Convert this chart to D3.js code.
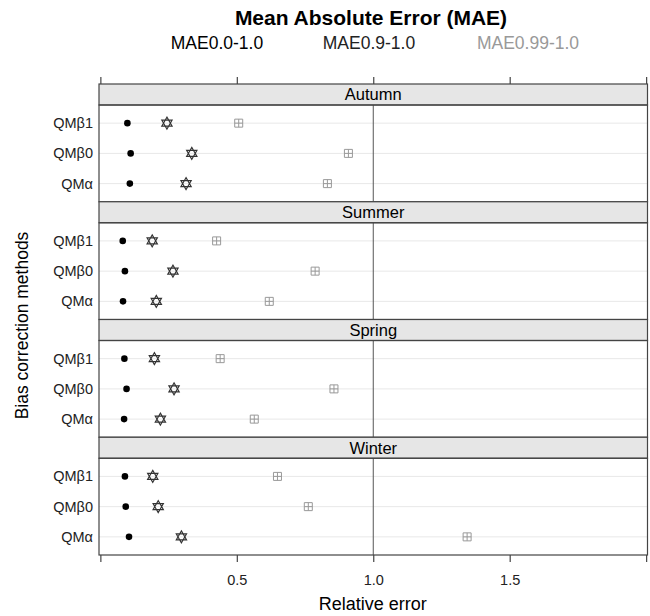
<!DOCTYPE html>
<html>
<head>
<meta charset="utf-8">
<script src="https://cdn.jsdelivr.net/npm/d3@7"></script>
<style>
  body { margin: 0; background: #fff; }
  svg { font-family: 'Liberation Sans', Arial, sans-serif; }
</style>
</head>
<body>
<div id="chart"></div>
<script>
// panels from top to bottom
const seasons = ['Autumn', 'Summer', 'Spring', 'Winter'];
// methods from bottom row to top row
const methods = ['QMα', 'QMβ0', 'QMβ1'];
const seriesNames = ['MAE0.0-1.0', 'MAE0.9-1.0', 'MAE0.99-1.0'];

// values per season, ordered as methods (QMα, QMβ0, QMβ1)
const mae00 = [
  [0.108, 0.111, 0.099],
  [0.083, 0.090, 0.082],
  [0.087, 0.096, 0.088],
  [0.105, 0.093, 0.090]
];
const mae09 = [
  [0.314, 0.335, 0.244],
  [0.205, 0.266, 0.190],
  [0.220, 0.270, 0.198],
  [0.297, 0.212, 0.192]
];
const mae099 = [
  [0.832, 0.909, 0.507],
  [0.619, 0.787, 0.426],
  [0.564, 0.856, 0.439],
  [1.344, 0.762, 0.649]
];
const xTicks = [0, 0.5, 1, 1.5, 2];
const xLabels = [0.5, 1, 1.5];

const width = 650;
const height = 616;
const plotLeft = 99;
const plotRight = 647.5;
const plotTop = 84;
const stripHeight = 21;
const panelHeight = 96.75;
const axisColor = '#444';

const svg = d3.select('#chart')
  .append('svg')
  .attr('width', width)
  .attr('height', height);

const x = d3.scaleLinear()
  .domain([-0.005, 2.005])
  .range([plotLeft, plotRight]);

// title and text-only legend
svg.append('text')
  .attr('x', 371)
  .attr('y', 25)
  .attr('text-anchor', 'middle')
  .style('font-size', '21px')
  .style('font-weight', 'bold')
  .text('Mean Absolute Error (MAE)');

const legendColors = ['#000', '#222', '#999'];
const legendX = [217, 369, 528];
svg.append('g')
  .selectAll('text')
  .data(seriesNames)
  .enter()
  .append('text')
  .attr('x', (_, i) => legendX[i])
  .attr('y', 49)
  .attr('text-anchor', 'middle')
  .style('font-size', '17.5px')
  .style('fill', (_, i) => legendColors[i])
  .text(d => d);

// marker shapes
const starPath = r => {
  let tri = a0 => d3.range(3).map(k => {
    let a = (a0 + k * 120) * Math.PI / 180;
    return [r * Math.cos(a), r * Math.sin(a)];
  });
  let up = tri(-90), down = tri(90);
  return 'M' + up.join('L') + 'Z M' + down.join('L') + 'Z';
};
const boxPlusPath = s => {
  let h = s / 2;
  return `M${-h},${-h}H${h}V${h}H${-h}Z M0,${-h}V${h} M${-h},0H${h}`;
};

seasons.forEach((season, si) => {
  let stripTop = plotTop + si * (stripHeight + panelHeight);
  let panelTop = stripTop + stripHeight;
  let panelBottom = panelTop + panelHeight;

  let y = d3.scaleLinear()
    .domain([0.4, 3.6])
    .range([panelBottom, panelTop]);

  let g = svg.append('g').attr('class', 'panel');

  // horizontal grid lines for each method
  g.selectAll('line.grid')
    .data(methods)
    .enter()
    .append('line')
    .attr('class', 'grid')
    .attr('x1', plotLeft)
    .attr('x2', plotRight)
    .attr('y1', (_, i) => y(i + 1))
    .attr('y2', (_, i) => y(i + 1))
    .style('stroke', '#e8e8e8')
    .style('stroke-width', 1);

  // reference line at 1
  g.append('line')
    .attr('x1', x(1))
    .attr('x2', x(1))
    .attr('y1', panelTop)
    .attr('y2', panelBottom)
    .style('stroke', '#555')
    .style('stroke-width', 1);

  // y labels
  g.selectAll('text.ylab')
    .data(methods)
    .enter()
    .append('text')
    .attr('class', 'ylab')
    .attr('x', 93)
    .attr('y', (_, i) => y(i + 1))
    .attr('dy', '0.35em')
    .attr('text-anchor', 'end')
    .style('font-size', '14.5px')
    .style('fill', '#222')
    .text(d => d);

  // series 3: boxed plus
  g.selectAll('path.s3')
    .data(mae099[si])
    .enter()
    .append('path')
    .attr('class', 's3')
    .attr('transform', (d, i) => `translate(${x(d)},${y(i + 1)})`)
    .attr('d', boxPlusPath(8))
    .style('fill', 'none')
    .style('stroke', '#999')
    .style('stroke-width', 1);

  // series 2: star of david
  g.selectAll('path.s2')
    .data(mae09[si])
    .enter()
    .append('path')
    .attr('class', 's2')
    .attr('transform', (d, i) => `translate(${x(d)},${y(i + 1)})`)
    .attr('d', starPath(6))
    .style('fill', 'none')
    .style('stroke', '#333')
    .style('stroke-width', 1.1);

  // series 1: filled dot
  g.selectAll('circle.s1')
    .data(mae00[si])
    .enter()
    .append('circle')
    .attr('class', 's1')
    .attr('cx', d => x(d))
    .attr('cy', (_, i) => y(i + 1))
    .attr('r', 3.3)
    .style('fill', '#000');

  // strip
  g.append('rect')
    .attr('x', plotLeft)
    .attr('y', stripTop)
    .attr('width', plotRight - plotLeft)
    .attr('height', stripHeight)
    .style('fill', '#e6e6e6')
    .style('stroke', axisColor)
    .style('stroke-width', 1.2);

  g.append('text')
    .attr('x', (plotLeft + plotRight) / 2)
    .attr('y', stripTop + stripHeight / 2)
    .attr('dy', '0.36em')
    .attr('text-anchor', 'middle')
    .style('font-size', '16.5px')
    .text(season);

  // panel frame
  g.append('rect')
    .attr('x', plotLeft)
    .attr('y', panelTop)
    .attr('width', plotRight - plotLeft)
    .attr('height', panelHeight)
    .style('fill', 'none')
    .style('stroke', axisColor)
    .style('stroke-width', 1.2);
});

const plotBottom = plotTop + seasons.length * (stripHeight + panelHeight);

// top ticks, no labels
let topAxis = svg.append('g')
  .attr('transform', `translate(0,${plotTop})`)
  .call(d3.axisTop(x).tickValues(xTicks).tickFormat('').tickSize(7).tickSizeOuter(0));
topAxis.select('.domain').remove();

// bottom axis
let bottomAxis = svg.append('g')
  .attr('transform', `translate(0,${plotBottom})`)
  .call(d3.axisBottom(x).tickValues(xTicks)
    .tickFormat(d => xLabels.includes(d) ? d3.format('.1f')(d) : '')
    .tickSize(7).tickSizeOuter(0));
bottomAxis.select('.domain').remove();

[topAxis, bottomAxis].forEach(a => {
  a.selectAll('line').style('stroke', axisColor).style('stroke-width', 1.2);
  a.selectAll('text')
    .style('font-size', '14.5px')
    .style('fill', '#222')
    .style('font-family', "'Liberation Sans', Arial, sans-serif");
});
bottomAxis.selectAll('text').attr('dy', '1.35em');

// axis titles
svg.append('text')
  .attr('x', (plotLeft + plotRight) / 2 - 0.5)
  .attr('y', 610)
  .attr('text-anchor', 'middle')
  .style('font-size', '18px')
  .text('Relative error');

svg.append('text')
  .attr('transform', `translate(28,${(plotTop + plotBottom) / 2 + 6}) rotate(-90)`)
  .attr('text-anchor', 'middle')
  .style('font-size', '17.5px')
  .text('Bias correction methods');
</script>
</body>
</html>
